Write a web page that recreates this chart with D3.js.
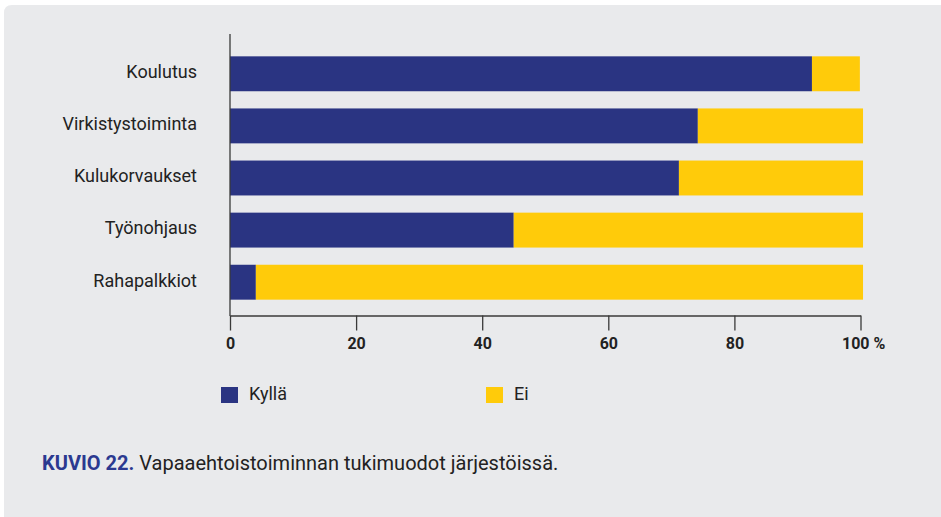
<!DOCTYPE html>
<html>
<head>
<meta charset="utf-8">
<script src="https://cdn.jsdelivr.net/npm/d3@7"></script>
<style>
  html, body { margin: 0; padding: 0; background: #ffffff; }
  svg { display: block; font-family: Roboto, "Noto Sans", sans-serif; }
</style>
</head>
<body>
<script>
// data
var categories = ["Koulutus", "Virkistystoiminta", "Kulukorvaukset", "Työnohjaus", "Rahapalkkiot"];
var kylla = [92.3, 74.2, 71.2, 45.0, 4.1];
var ei = [7.6, 26.2, 29.2, 55.4, 96.3];
var seriesNames = ["Kyllä", "Ei"];
var tickValues = [0, 20, 40, 60, 80, 100];

var width = 941,
    height = 517,
    navy = "#2a3482",
    yellow = "#ffcb0a",
    panelFill = "#e9eaec",
    textHex = "#222222";

var svg = d3.select("body")
    .append("svg")
    .attr("width", width)
    .attr("height", height);

// background panel, rounded top-left corner
svg.append("path")
    .attr("d", "M4,13 Q4,5 12,5 L941,5 L941,517 L4,517 Z")
    .attr("fill", panelFill);

var x = d3.scaleLinear().domain([0, 100]).range([230, 860.5]);
var y = d3.scaleBand().domain(categories).range([48, 308]).paddingInner(0.33).paddingOuter(0.16);

var rows = categories.map(function(c, i) {
    return { cat: c, k: kylla[i], e: ei[i] };
});

var g = svg.append("g");

g.selectAll("rect.kylla")
    .data(rows)
    .enter()
    .append("rect")
    .attr("class", "kylla")
    .attr("x", x(0))
    .attr("y", function(d) { return y(d.cat); })
    .attr("width", function(d) { return x(d.k) - x(0); })
    .attr("height", y.bandwidth())
    .attr("fill", navy);

g.selectAll("rect.ei")
    .data(rows)
    .enter()
    .append("rect")
    .attr("class", "ei")
    .attr("x", function(d) { return x(d.k); })
    .attr("y", function(d) { return y(d.cat); })
    .attr("width", function(d) { return x(d.k + d.e) - x(d.k); })
    .attr("height", y.bandwidth())
    .attr("fill", yellow);

// category labels
g.selectAll("text.cat")
    .data(categories)
    .enter()
    .append("text")
    .attr("class", "cat")
    .attr("x", 197)
    .attr("y", function(d) { return y(d) + y.bandwidth() / 2 - 2; })
    .attr("dy", "0.35em")
    .attr("text-anchor", "end")
    .style("font-size", "18px")
    .style("fill", textHex)
    .text(function(d) { return d; });

// vertical axis line
svg.append("line")
    .attr("x1", x(0)).attr("x2", x(0))
    .attr("y1", 34).attr("y2", 316)
    .attr("stroke", "#3a3a3a")
    .attr("stroke-width", 1.3);

// x axis
var xAxis = d3.axisBottom(x)
    .tickValues(tickValues)
    .tickSize(15)
    .tickSizeOuter(0)
    .tickPadding(7)
    .tickFormat(function(d) { return d === 100 ? "100 %" : d; });

var ax = svg.append("g")
    .attr("transform", "translate(0,315.5)")
    .call(xAxis);

ax.select(".domain").attr("stroke", "#3a3a3a").attr("stroke-width", 1.3);
ax.selectAll(".tick line").attr("stroke", "#3a3a3a").attr("stroke-width", 1.3);
ax.selectAll(".tick text")
    .style("font-family", "Roboto, sans-serif")
    .style("font-size", "16px")
    .style("font-weight", "bold")
    .style("fill", textHex);
ax.selectAll(".tick text")
    .filter(function(d) { return d === 100; })
    .attr("text-anchor", "start")
    .attr("x", -19);

// legend
var legend = svg.append("g");
var legendX = [221, 486];
var legendColors = [navy, yellow];
seriesNames.forEach(function(name, i) {
    legend.append("rect")
        .attr("x", legendX[i])
        .attr("y", 387)
        .attr("width", 17)
        .attr("height", 16)
        .attr("fill", legendColors[i]);
    legend.append("text")
        .attr("x", legendX[i] + 28)
        .attr("y", 400)
        .style("font-size", "18px")
        .style("fill", textHex)
        .text(name);
});

// caption
var cap = svg.append("text")
    .attr("x", 42)
    .attr("y", 470)
    .style("font-size", "20px")
    .style("fill", textHex);
cap.append("tspan")
    .style("font-weight", "bold")
    .style("fill", "#2b3990")
    .text("KUVIO 22.");
cap.append("tspan")
    .text(" Vapaaehtoistoiminnan tukimuodot järjestöissä.");
</script>
</body>
</html>
